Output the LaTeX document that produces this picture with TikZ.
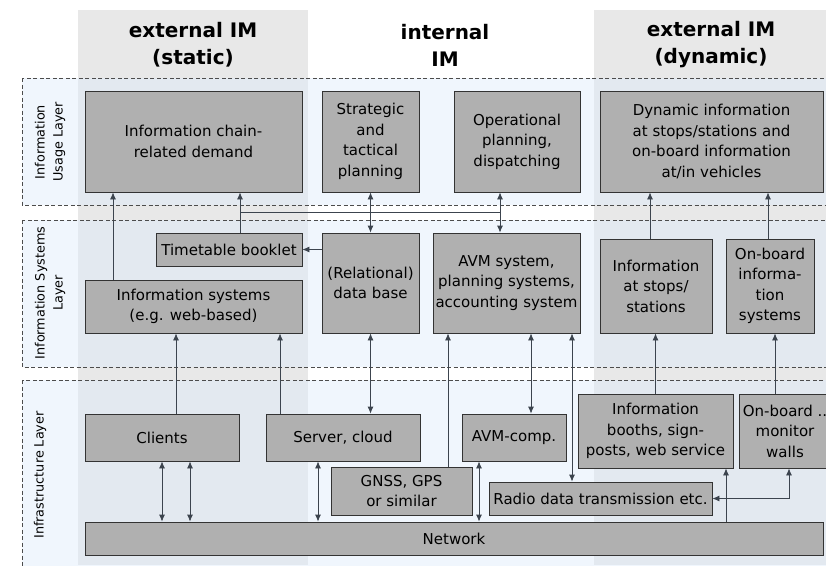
\documentclass[tikz,border=0pt]{standalone}
\usepackage{fontspec}
\setmainfont{DejaVu Sans}
\usepackage{tikz}
\usetikzlibrary{positioning,arrows.meta,calc}
\usepackage{xcolor}
\definecolor{boxgray}{RGB}{176,176,176}
\definecolor{colgray}{RGB}{232,232,232}
\definecolor{layerblue}{RGB}{222,236,250}
\definecolor{arrowgray}{RGB}{60,68,78}

\begin{document}
\begin{tikzpicture}[x=1pt, y=-1pt,
    block/.style={
        draw=black!80,
        line width=0.8pt,
        fill=boxgray,
        rectangle,
        align=center,
        inner sep=2pt,
        font=\fontsize{15}{20.5}\selectfont
    },
    header/.style={
        align=center,
        font=\fontsize{20}{27}\selectfont\bfseries
    },
    layer/.style={
        draw=black!70,
        dash pattern=on 4pt off 2.5pt,
        line width=0.7pt,
        fill=layerblue,
        fill opacity=0.45
    },
    layerlabel/.style={
        rotate=90,
        align=center,
        font=\fontsize{12.8}{18}\selectfont
    },
    arrow/.style={
        -{Latex[length=7pt,width=6pt]},
        line width=0.8pt,
        arrowgray
    },
    biarrow/.style={
        {Latex[length=7pt,width=6pt]}-{Latex[length=7pt,width=6pt]},
        line width=0.8pt,
        arrowgray
    },
    line/.style={
        line width=0.8pt,
        arrowgray
    }
]
    \useasboundingbox (0,0) rectangle (826,565);

    % Column backgrounds
    \fill[colgray] (78,10) rectangle (308,565);
    \fill[colgray] (594,10) rectangle (826,565);

    % Column headers
    \node[header] (hstatic) at (193,45) {external IM\\(static)};
    \node[header] (hinternal) at (445,45) {internal\\IM};
    \node[header] (hdynamic) at (711,45) {external IM\\(dynamic)};

    % Layers
    \draw[layer] (22,78) rectangle (832,205);
    \draw[layer] (22,220) rectangle (832,367);
    \draw[layer] (22,380) rectangle (832,575);
    \node[layerlabel] (usagelbl) at (50,142) {Information\\Usage Layer};
    \node[layerlabel] (systemslbl) at (50,293) {Information Systems\\Layer};
    \node[layerlabel] (infralbl) at (40,475) {Infrastructure Layer};

    % Information usage layer
    \node[block, minimum width=217pt, minimum height=101pt] (demand) at (193.5,141.5) {Information chain-\\related demand};
    \node[block, minimum width=97pt, minimum height=101pt] (strategic) at (370.5,141.5) {Strategic\\and\\tactical\\planning};
    \node[block, minimum width=126pt, minimum height=101pt] (operational) at (517,141.5) {Operational\\planning,\\dispatching};
    \node[block, minimum width=223pt, minimum height=101pt] (dynamic) at (711.5,141.5) {Dynamic information\\at stops/stations and\\on-board information\\at/in vehicles};

    % Information systems layer
    \node[block, minimum width=146pt, minimum height=33pt] (timetable) at (229,249.5) {Timetable booklet};
    \node[block, minimum width=217pt, minimum height=53pt] (infosys) at (193.5,306.5) {Information systems\\(e.g. web-based)};
    \node[block, minimum width=97pt, minimum height=100pt] (database) at (370.5,283) {(Relational)\\data base};
    \node[block, minimum width=147pt, minimum height=100pt] (avm) at (506.5,283) {AVM system,\\planning systems,\\accounting system};
    \node[block, minimum width=112pt, minimum height=94pt] (stops) at (656,286) {Information\\at stops/\\stations};
    \node[block, minimum width=88pt, minimum height=94pt] (onboardsys) at (770,286) {On-board\\informa-\\tion\\systems};

    % Infrastructure layer
    \node[block, minimum width=154pt, minimum height=47pt] (clients) at (162,437.5) {Clients};
    \node[block, minimum width=154pt, minimum height=47pt] (server) at (343,437.5) {Server, cloud};
    \node[block, minimum width=141pt, minimum height=48pt] (gnss) at (401.5,491) {GNSS, GPS\\or similar};
    \node[block, minimum width=104pt, minimum height=47pt] (avmcomp) at (514,437.5) {AVM-comp.};
    \node[block, minimum width=155pt, minimum height=74pt] (booths) at (655.5,431) {Information\\booths, sign-\\posts, web service};
    \node[block, minimum width=92pt, minimum height=74pt] (monitor) at (785,431) {On-board ..\\monitor\\walls};
    \node[block, minimum width=223pt, minimum height=33pt] (radio) at (600.5,498.5) {Radio data transmission etc.};
    \node[block, minimum width=738pt, minimum height=33pt] (network) at (454,538.5) {Network};

    % Usage <-> systems
    \draw[arrow] ([xshift=-80.5pt]infosys.north) -- ([xshift=-80.5pt]infosys.north |- demand.south);
    \draw[arrow] ([xshift=11pt]timetable.north) -- ([xshift=11pt]timetable.north |- demand.south);
    \coordinate (bus) at ($([xshift=11pt]timetable.north)!0.5!([xshift=11pt]timetable.north |- demand.south)$);
    \coordinate (opdrop) at ([xshift=-17pt]operational.south);
    \draw[line] (bus) -- (bus -| opdrop);
    \draw[biarrow] (strategic.south) -- (database.north);
    \draw[biarrow] (opdrop) -- (opdrop |- avm.north);
    \draw[arrow] (database.west |- timetable.east) -- (timetable.east);
    \draw[arrow] ([xshift=-6pt]stops.north) -- ([xshift=-6pt]stops.north |- dynamic.south);
    \draw[arrow] ([xshift=-2pt]onboardsys.north) -- ([xshift=-2pt]onboardsys.north |- dynamic.south);

    % Infrastructure -> systems
    \draw[arrow] ([xshift=14pt]clients.north) -- ([xshift=14pt]clients.north |- infosys.south);
    \draw[arrow] ([xshift=-63pt]server.north) -- ([xshift=-63pt]server.north |- infosys.south);
    \draw[biarrow] (database.south) -- (database.south |- server.north);
    \draw[arrow] ([xshift=46.5pt]gnss.north) -- ([xshift=46.5pt]gnss.north |- avm.south);
    \draw[biarrow] ([xshift=17pt]avmcomp.north) -- ([xshift=17pt]avmcomp.north |- avm.south);
    \draw[biarrow] ([xshift=-28.5pt]radio.north) -- ([xshift=-28.5pt]radio.north |- avm.south);
    \draw[arrow] (booths.north) -- (booths.north |- stops.south);
    \draw[arrow] ([xshift=-10pt]monitor.north) -- ([xshift=-10pt]monitor.north |- onboardsys.south);

    % Network connections
    \draw[biarrow] (clients.south) -- (clients.south |- network.north);
    \draw[biarrow] ([xshift=28pt]clients.south) -- ([xshift=28pt]clients.south |- network.north);
    \draw[biarrow] ([xshift=-25pt]server.south) -- ([xshift=-25pt]server.south |- network.north);
    \draw[biarrow] ([xshift=-35pt]avmcomp.south) -- ([xshift=-35pt]avmcomp.south |- network.north);
    \draw[arrow] ([xshift=70.5pt]booths.south |- network.north) -- ([xshift=70.5pt]booths.south);
    \draw[biarrow] ([xshift=4pt]monitor.south) |- (radio.east);
\end{tikzpicture}
\end{document}
